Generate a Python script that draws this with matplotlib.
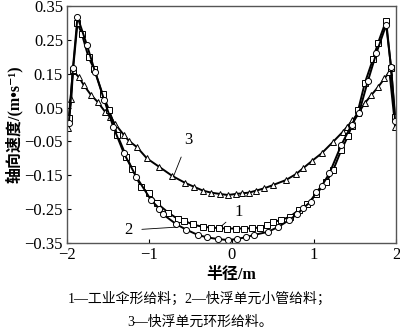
import matplotlib
matplotlib.use("Agg")
import matplotlib.pyplot as plt

plt.rcParams["font.family"] = ["Liberation Serif", "DejaVu Serif", "Noto Sans CJK SC"]
plt.rcParams["axes.unicode_minus"] = True

# series 1: industrial umbrella feed (squares)
x1 = [-1.98, -1.93, -1.875, -1.82, -1.74, -1.67, -1.57, -1.49, -1.39, -1.28, -1.21,
      -1.10, -1.01, -0.91, -0.77, -0.655, -0.575, -0.475, -0.35, -0.25, -0.15, -0.05,
      0.05, 0.15, 0.25, 0.35, 0.43, 0.50, 0.60, 0.71, 0.82, 0.92, 1.03, 1.15, 1.235,
      1.335, 1.415, 1.46, 1.54, 1.62, 1.72, 1.78, 1.88, 1.94, 1.99]
v1 = [0.018, 0.16, 0.30, 0.266, 0.198, 0.163, 0.09, 0.043, -0.031, -0.095, -0.131,
      -0.184, -0.203, -0.232, -0.26, -0.279, -0.284, -0.295, -0.302, -0.304, -0.306, -0.307,
      -0.307, -0.307, -0.306, -0.304, -0.298, -0.288, -0.282, -0.272, -0.252, -0.235, -0.205,
      -0.17, -0.135, -0.075, -0.035, -0.005, 0.043, 0.122, 0.193, 0.24, 0.307, 0.166, 0.023]

# series 2: flotation unit small-pipe feed (circles)
x2 = [-1.98, -1.93, -1.875, -1.76, -1.66, -1.55, -1.44, -1.31, -1.16, -0.98, -0.88,
      -0.84, -0.675, -0.555, -0.41, -0.30, -0.17, -0.045, 0.06, 0.17, 0.27, 0.44, 0.57,
      0.70, 0.80, 0.87, 0.96, 1.03, 1.10, 1.19, 1.335, 1.46, 1.55, 1.66, 1.76, 1.88,
      1.94, 1.99]
v2 = [0.004, 0.167, 0.318, 0.235, 0.155, 0.072, -0.006, -0.085, -0.154, -0.223, -0.248,
      -0.264, -0.294, -0.31, -0.326, -0.333, -0.338, -0.341, -0.338, -0.333, -0.326, -0.317,
      -0.302, -0.282, -0.264, -0.247, -0.228, -0.20, -0.18, -0.144, -0.06, -0.001, 0.035,
      0.13, 0.21, 0.294, 0.17, 0.01]

# series 3: flotation unit ring feed (triangles)
x3 = [-1.99, -1.95, -1.93, -1.855, -1.80, -1.71, -1.63, -1.54, -1.48, -1.42, -1.31,
      -1.25, -1.15, -1.03, -0.88, -0.72, -0.567, -0.455, -0.35, -0.25, -0.14, -0.045,
      0.05, 0.13, 0.21, 0.30, 0.40, 0.50, 0.66, 0.785, 0.87, 0.98, 1.095, 1.235, 1.355,
      1.40, 1.47, 1.54, 1.62, 1.70, 1.78, 1.86, 1.92, 1.99]
v3 = [-0.01, 0.075, 0.159, 0.139, 0.117, 0.087, 0.067, 0.038, 0.023, 0.003, -0.031,
      -0.048, -0.067, -0.10, -0.125, -0.152, -0.172, -0.184, -0.195, -0.201, -0.205, -0.208,
      -0.205, -0.203, -0.201, -0.195, -0.188, -0.179, -0.164, -0.146, -0.129, -0.107, -0.085,
      -0.051, -0.021, -0.008, 0.012, 0.033, 0.063, 0.087, 0.11, 0.136, 0.156, -0.006]

x_ticks = [-2, -1, 0, 1, 2]
y_ticks = [-0.35, -0.25, -0.15, -0.05, 0.05, 0.15, 0.25, 0.35]
y_tick_labels = ["\u22120.35", "\u22120.25", "\u22120.15", "\u22120.05", "0.05", "0.15", "0.25", "0.35"]

fig = plt.figure(figsize=(4, 3.33), dpi=100)
ax = fig.add_axes([0.168, 0.270, 0.822, 0.712])

style = dict(color="black", linewidth=1.4, markerfacecolor="white",
             markeredgecolor="black", markeredgewidth=0.7)
ax.plot(x3, v3, marker="^", markersize=4.2, **style)
ax.plot(x1, v1, marker="s", markersize=4.2, **style)
ax.plot(x2, v2, marker="o", markersize=4.4, **style)

# curve labels with leader lines
ax.annotate("3", xy=(-0.71, -0.155), xytext=(-0.53, -0.045), fontsize=12,
            ha="center", va="center",
            arrowprops=dict(arrowstyle="-", color="black", linewidth=0.6, shrinkA=5, shrinkB=0))
ax.annotate("1", xy=(-0.125, -0.30), xytext=(0.08, -0.257), fontsize=12,
            ha="center", va="center",
            arrowprops=dict(arrowstyle="-", color="black", linewidth=0.6, shrinkA=5, shrinkB=0))
ax.annotate("2", xy=(-0.68, -0.303), xytext=(-1.26, -0.312), fontsize=12,
            ha="center", va="center",
            arrowprops=dict(arrowstyle="-", color="black", linewidth=0.6, shrinkA=5, shrinkB=0))

ax.set_xlim(-2, 2)
ax.set_ylim(-0.35, 0.35)
ax.set_xticks(x_ticks)
ax.set_xticklabels([str(t) if t >= 0 else "\u2212" + str(-t) for t in x_ticks])
ax.set_yticks(y_ticks)
ax.set_yticklabels(y_tick_labels)
ax.tick_params(direction="in", length=3, width=0.8, labelsize=12, pad=3)
for spine in ax.spines.values():
    spine.set_color("#555555")
    spine.set_linewidth(1.0)

ax.set_xlabel("半径/m", fontsize=11.5, fontweight="bold", labelpad=3)
ax.set_ylabel("轴向速度/(m\u2022s\u207b\u00b9)", fontsize=11.5, fontweight="bold", labelpad=1)

fig.text(0.5, 0.103, "1—工业伞形给料；2—快浮单元小管给料；", ha="center", va="center", fontsize=10)
fig.text(0.5, 0.033, "3—快浮单元环形给料。", ha="center", va="center", fontsize=10)

fig.savefig("out.png", dpi=100)
